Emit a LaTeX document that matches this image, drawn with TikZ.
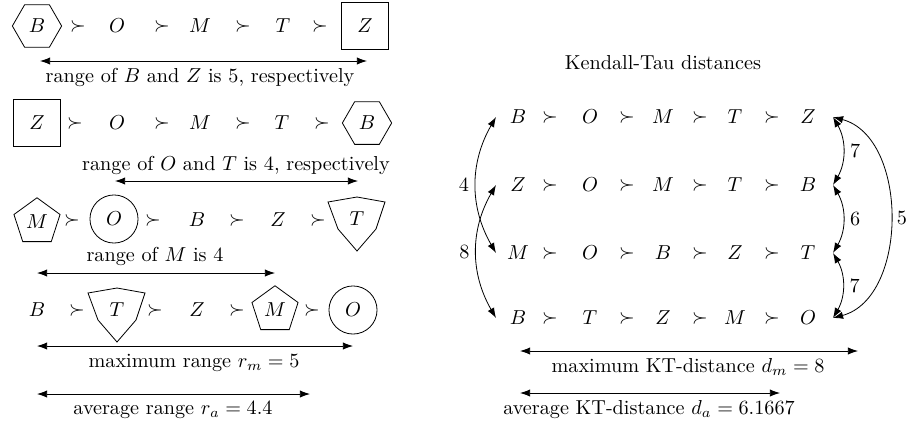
\documentclass[tikz,border=0pt]{standalone}
\usetikzlibrary{arrows.meta,shapes.geometric,calc}
\begin{document}
\begin{tikzpicture}[x=0.495pt,y=-0.495pt,
  el/.style={inner sep=0pt},
  hexa/.style={draw,regular polygon,regular polygon sides=6,minimum size=24.4pt,inner sep=0pt},
  pent/.style={draw,regular polygon,regular polygon sides=5,minimum size=24pt,inner sep=0pt},
  sq/.style={draw,rectangle,minimum size=22.9pt,inner sep=0pt},
  circ/.style={draw,circle,minimum size=23.8pt,inner sep=0pt},
  arr/.style={{Latex[length=5pt,width=3.6pt]}-{Latex[length=5pt,width=3.6pt]}},
  lbl/.style={inner sep=1pt}
]
\useasboundingbox (0,0) rectangle (907,426);

% ---------------- left: row 1
\node[hexa] (a1) at (37,26) {$B$};
\node[el] (a2) at (78,26) {$\succ$};
\node[el] (a3) at (117,26) {$O$};
\node[el] (a4) at (162,26) {$\succ$};
\node[el] (a5) at (200,26) {$M$};
\node[el] (a6) at (243,26) {$\succ$};
\node[el] (a7) at (283,26) {$T$};
\node[el] (a8) at (320,26) {$\succ$};
\node[sq] (a9) at (365,26) {$Z$};
\coordinate (ra1) at (40,61);
\coordinate (ra2) at (367,61);
\draw[arr] (ra1) -- (ra2);
\node[lbl] (la) at (200,77) {range of $B$ and $Z$ is 5, respectively};

% ---------------- left: row 2
\node[sq] (b1) at (37,123) {$Z$};
\node[el] (b2) at (75,123) {$\succ$};
\node[el] (b3) at (117,123) {$O$};
\node[el] (b4) at (162,123) {$\succ$};
\node[el] (b5) at (200,123) {$M$};
\node[el] (b6) at (243,123) {$\succ$};
\node[el] (b7) at (282,123) {$T$};
\node[el] (b8) at (322,123) {$\succ$};
\node[hexa] (b9) at (367,123) {$B$};
\node[lbl] (lb) at (236,165) {range of $O$ and $T$ is 4, respectively};
\coordinate (rb1) at (115,181);
\coordinate (rb2) at (358,181);
\draw[arr] (rb1) -- (rb2);

% ---------------- left: row 3
\node[pent] (c1) at (37,222) {$M$};
\node[el] (c2) at (72,220) {$\succ$};
\node[circ] (c3) at (114,219) {$O$};
\node[el] (c4) at (153,220) {$\succ$};
\node[el] (c5) at (197,220) {$B$};
\node[el] (c6) at (237,220) {$\succ$};
\node[el] (c7) at (278,220) {$Z$};
\node[el] (c8) at (318,220) {$\succ$};
\node[el] (c9) at (357,219) {$T$};
\draw[shift={(c9.center)}] (-29,-17) -- (0,-22) -- (28,-17) -- (19,10) -- (0,32) -- (-19,10) -- cycle;
\node[lbl] (lc) at (155,256) {range of $M$ is 4};
\coordinate (rc1) at (37,273);
\coordinate (rc2) at (275,273);
\draw[arr] (rc1) -- (rc2);

% ---------------- left: row 4
\node[el] (d1) at (37,310) {$B$};
\node[el] (d2) at (77,310) {$\succ$};
\node[el] (d3) at (117,310) {$T$};
\draw[shift={(d3.center)}] (-29,-17) -- (0,-22) -- (28,-17) -- (19,10) -- (0,32) -- (-19,10) -- cycle;
\node[el] (d4) at (155,310) {$\succ$};
\node[el] (d5) at (197,310) {$Z$};
\node[el] (d6) at (237,310) {$\succ$};
\node[pent] (d7) at (275,310) {$M$};
\node[el] (d8) at (312,310) {$\succ$};
\node[circ] (d9) at (353,310) {$O$};
\coordinate (rd1) at (37,346);
\coordinate (rd2) at (353,346);
\draw[arr] (rd1) -- (rd2);
\node[lbl] (ld) at (194,363) {maximum range $r_m=5$};
\coordinate (re1) at (37,394);
\coordinate (re2) at (310,394);
\draw[arr] (re1) -- (re2);
\node[lbl] (le) at (173,410) {average range $r_a=4.4$};

% ---------------- right: Kendall-Tau
\node[lbl] (title) at (663,63) {Kendall-Tau distances};
\foreach \r/\y/\p/\q/\s/\t/\u in {1/117/B/O/M/T/Z, 2/185/Z/O/M/T/B, 3/253/M/O/B/Z/T, 4/318/B/T/Z/M/O} {
  \node[el] (k\r-1) at (518,\y) {$\p$};
  \node[el] (ks\r-1) at (550,\y) {$\succ$};
  \node[el] (k\r-2) at (590,\y) {$\q$};
  \node[el] (ks\r-2) at (627,\y) {$\succ$};
  \node[el] (k\r-3) at (663,\y) {$\s$};
  \node[el] (ks\r-3) at (700,\y) {$\succ$};
  \node[el] (k\r-4) at (735,\y) {$\t$};
  \node[el] (ks\r-4) at (772,\y) {$\succ$};
  \node[el] (k\r-5) at (808,\y) {$\u$};
  \coordinate (L\r) at ($(k\r-1)+(-22,0)$);
  \coordinate (R\r) at ($(k\r-5)+(25,0)$);
}
\draw[arr] (L1) to[out=240,in=120] node[left] {4} (L3);
\draw[arr] (L2) to[out=240,in=120] node[left] {8} (L4);
\draw[arr] (R1) to[out=-60,in=60] node[right] {7} (R2);
\draw[arr] (R2) to[out=-60,in=60] node[right] {6} (R3);
\draw[arr] (R3) to[out=-60,in=60] node[right] {7} (R4);
\draw[arr] (R1) to[out=-15,in=15] node[right] {5} (R4);

\coordinate (m1) at (520,351);
\coordinate (m2) at (858,351);
\draw[arr] (m1) -- (m2);
\node[lbl] (lm) at (688,367) {maximum KT-distance $d_m=8$};
\coordinate (v1) at (520,393);
\coordinate (v2) at (780,393);
\draw[arr] (v1) -- (v2);
\node[lbl] (lv) at (649,410) {average KT-distance $d_a=6.1667$};
\end{tikzpicture}
\end{document}
